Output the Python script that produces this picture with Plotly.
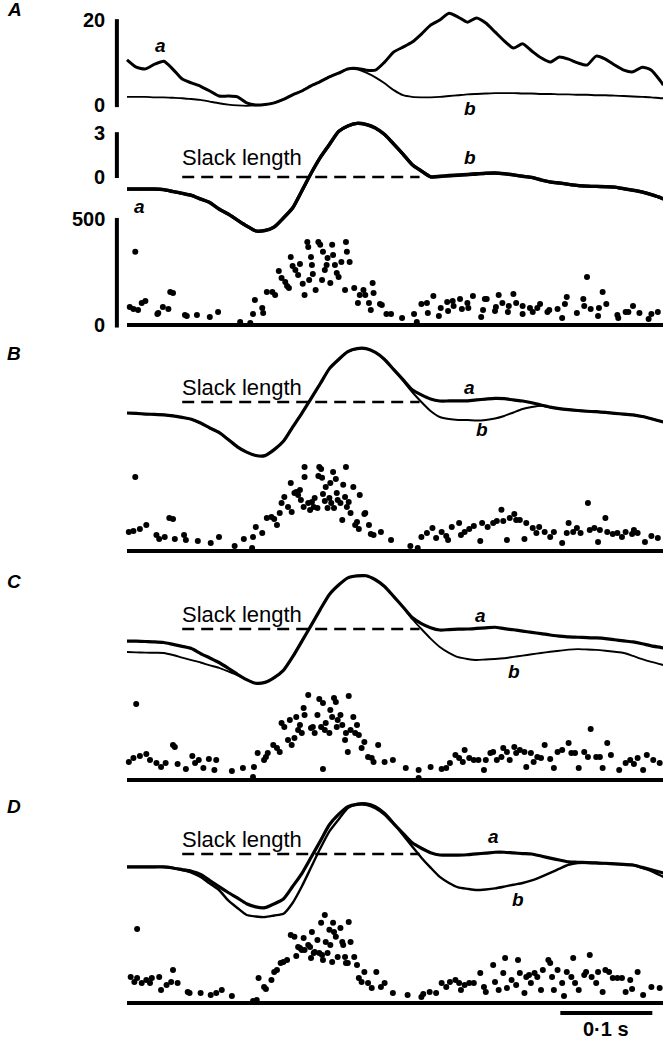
import plotly.graph_objects as go

W, H = 663, 1043
FONT = "Liberation Sans, Arial, Helvetica, sans-serif"

# ---------------------------------------------------------------- time base (ms)
T_MS = list(range(0, 590, 10)) + [583]

# ---------------------------------------------------------------- EMG (panel A, top)
EMG_A = [10.6, 8.9, 8.5, 9.6, 10.3, 8.4, 6.1, 5.2, 4.4, 3.3,
         2.1, 2.1, 1.9, 0.5, 0.0, 0.1, 0.5, 1.3, 2.4, 3.3,
         4.5, 5.5, 6.6, 7.5, 8.5, 8.6, 8.2, 8.2, 10.1, 12.5,
         13.6, 14.8, 16.7, 18.8, 20.0, 21.6, 20.7, 19.5, 20.5, 19.3,
         17.2, 15.1, 13.4, 14.4, 12.7, 11.1, 10.1, 11.3, 10.8, 9.9,
         9.4, 11.5, 10.8, 9.4, 8.2, 7.8, 8.9, 8.2, 5.6, 4.7]
EMG_B = [1.9, 1.9, 1.9, 1.8, 1.8, 1.7, 1.6, 1.4, 1.2, 0.8,
         0.4, 0.1, -0.1, -0.2, -0.1, 0.1, 0.5, 1.3, 2.4, 3.3,
         4.5, 5.5, 6.6, 7.5, 8.4, 8.4, 7.6, 6.5, 5.1, 3.5,
         2.3, 1.9, 1.8, 1.8, 1.9, 2.1, 2.3, 2.5, 2.6, 2.7,
         2.8, 2.8, 2.8, 2.7, 2.7, 2.6, 2.6, 2.5, 2.5, 2.4,
         2.4, 2.3, 2.3, 2.2, 2.1, 2.0, 1.9, 1.8, 1.6, 1.6]

# ---------------------------------------------------------------- muscle length (mm re slack length)
LEN_A_a = [-0.82, -0.82, -0.82, -0.82, -0.86, -0.99, -1.11, -1.25, -1.50, -1.74,
           -2.18, -2.52, -2.93, -3.33, -3.67, -3.64, -3.40, -2.79, -2.11, -0.95,
           0.24, 1.32, 2.21, 3.10, 3.47, 3.65, 3.57, 3.33, 2.89, 2.24,
           1.56, 0.84, 0.41, 0.00, 0.03, 0.07, 0.11, 0.14, 0.20, 0.24,
           0.26, 0.22, 0.14, 0.05, -0.03, -0.20, -0.34, -0.41, -0.50, -0.58,
           -0.62, -0.64, -0.66, -0.69, -0.80, -0.90, -1.02, -1.20, -1.41, -1.50]
LEN_A_b = [-0.82, -0.82, -0.82, -0.82, -0.86, -0.99, -1.11, -1.25, -1.50, -1.74,
           -2.18, -2.52, -2.93, -3.33, -3.67, -3.64, -3.40, -2.79, -2.11, -0.95,
           0.24, 1.32, 2.21, 3.10, 3.47, 3.65, 3.57, 3.33, 2.89, 2.24,
           1.56, 0.84, 0.41, 0.02, 0.05, 0.10, 0.14, 0.18, 0.22, 0.26,
           0.27, 0.22, 0.14, 0.05, -0.03, -0.20, -0.34, -0.41, -0.50, -0.58,
           -0.62, -0.64, -0.66, -0.69, -0.80, -0.90, -1.02, -1.20, -1.41, -1.50]

LEN_B_a = [-0.75, -0.78, -0.82, -0.84, -0.87, -0.94, -1.05, -1.17, -1.43, -1.77,
           -2.07, -2.55, -3.05, -3.41, -3.64, -3.65, -3.24, -2.67, -1.71, -0.77,
           0.23, 1.24, 2.27, 2.89, 3.42, 3.63, 3.63, 3.37, 2.89, 2.20,
           1.52, 0.83, 0.48, 0.20, 0.07, 0.07, 0.07, 0.08, 0.14, 0.20,
           0.25, 0.23, 0.14, 0.07, -0.05, -0.20, -0.35, -0.45, -0.52, -0.58,
           -0.63, -0.66, -0.71, -0.77, -0.83, -0.88, -0.99, -1.14, -1.31, -1.36]
LEN_B_b = [-0.75, -0.78, -0.82, -0.84, -0.87, -0.94, -1.05, -1.17, -1.43, -1.77,
           -2.07, -2.55, -3.05, -3.41, -3.64, -3.65, -3.24, -2.67, -1.71, -0.77,
           0.23, 1.24, 2.27, 2.89, 3.42, 3.63, 3.63, 3.37, 2.89, 2.20,
           1.45, 0.68, 0.00, -0.61, -1.02, -1.16, -1.22, -1.22, -1.26, -1.22,
           -1.12, -0.95, -0.71, -0.48, -0.34, -0.25, -0.35, -0.45, -0.52, -0.58,
           -0.63, -0.66, -0.71, -0.77, -0.83, -0.88, -0.99, -1.14, -1.31, -1.36]

LEN_C_a = [-0.82, -0.83, -0.85, -0.87, -0.92, -1.05, -1.18, -1.33, -1.67, -1.97,
           -2.28, -2.67, -3.08, -3.44, -3.69, -3.63, -3.31, -2.82, -1.90, -0.84,
           0.23, 1.32, 2.35, 2.99, 3.48, 3.61, 3.62, 3.35, 2.89, 2.20,
           1.50, 0.78, 0.37, 0.09, -0.07, -0.04, -0.01, 0.00, 0.04, 0.08,
           0.12, 0.02, -0.05, -0.14, -0.23, -0.31, -0.41, -0.48, -0.54, -0.56,
           -0.59, -0.61, -0.65, -0.73, -0.81, -0.88, -1.00, -1.15, -1.25, -1.29]
LEN_C_b = [-1.56, -1.59, -1.61, -1.62, -1.63, -1.77, -1.95, -2.12, -2.28, -2.47,
           -2.64, -2.88, -3.13, -3.44, -3.69, -3.63, -3.31, -2.82, -1.90, -0.84,
           0.23, 1.32, 2.35, 2.99, 3.48, 3.61, 3.62, 3.35, 2.89, 2.20,
           1.50, 0.68, 0.00, -0.65, -1.22, -1.62, -1.92, -2.04, -2.11, -2.07,
           -2.04, -1.99, -1.90, -1.81, -1.72, -1.63, -1.55, -1.48, -1.40, -1.37,
           -1.39, -1.42, -1.48, -1.55, -1.63, -1.83, -2.05, -2.24, -2.40, -2.45]

LEN_D_a = [-0.88, -0.88, -0.88, -0.88, -0.88, -0.95, -1.06, -1.17, -1.39, -1.80,
           -2.22, -2.62, -2.99, -3.38, -3.60, -3.65, -3.39, -3.06, -2.21, -1.33,
           -0.24, 0.87, 1.99, 2.69, 3.22, 3.38, 3.37, 3.14, 2.70, 2.05,
           1.40, 0.76, 0.39, 0.09, -0.07, -0.07, -0.07, -0.05, 0.01, 0.06,
           0.12, 0.12, 0.07, 0.03, 0.00, -0.14, -0.28, -0.41, -0.54, -0.56,
           -0.59, -0.61, -0.63, -0.67, -0.71, -0.75, -0.91, -1.07, -1.24, -1.29]
LEN_D_b = [-0.88, -0.88, -0.88, -0.88, -0.88, -0.95, -1.09, -1.26, -1.56, -2.01,
           -2.45, -3.16, -3.67, -4.15, -4.25, -4.29, -4.18, -4.07, -3.33, -2.21,
           -0.92, 0.37, 1.54, 2.35, 3.13, 3.40, 3.44, 3.25, 2.79, 2.09,
           1.29, 0.51, -0.25, -0.93, -1.56, -1.97, -2.27, -2.37, -2.45, -2.41,
           -2.34, -2.22, -2.09, -1.97, -1.80, -1.56, -1.29, -1.00, -0.73, -0.61,
           -0.60, -0.61, -0.63, -0.67, -0.71, -0.75, -0.94, -1.16, -1.46, -1.56]

# ---------------------------------------------------------------- instantaneous firing rate (imp/s)
SPK_A_T = [9, 3, 7, 12, 16, 20, 33, 34, 39, 45,
           47, 50, 63, 65, 76, 90, 99, 123, 134, 137,
           139, 147, 148, 152, 158, 161, 165, 168, 172, 174,
           176, 178, 180, 183, 186, 188, 191, 193, 196, 197,
           198, 200, 201, 202, 205, 208, 210, 212, 213, 215,
           217, 218, 221, 223, 224, 226, 228, 230, 233, 237,
           238, 239, 242, 247, 251, 253, 257, 259, 263, 265,
           267, 268, 275, 282, 287, 277, 299, 312, 315, 320,
           326, 327, 333, 339, 341, 348, 349, 354, 355, 362,
           364, 370, 371, 376, 385, 387, 389, 391, 400, 401,
           404, 408, 414, 415, 420, 423, 430, 430, 438, 441,
           446, 449, 457, 459, 468, 473, 476, 478, 489, 496,
           497, 500, 504, 512, 513, 517, 521, 533, 534, 542,
           545, 550, 557, 567, 570, 577]
SPK_A_V = [345, 85, 75, 71, 104, 113, 52, 57, 85, 75,
           156, 151, 47, 42, 47, 38, 61, 14, 9, 52,
           118, 80, 57, 156, 156, 142, 255, 222, 203, 184,
           175, 321, 278, 260, 236, 288, 194, 142, 392, 368,
           212, 321, 283, 241, 165, 392, 378, 212, 345, 260,
           283, 316, 198, 378, 330, 283, 245, 227, 297, 165,
           392, 345, 297, 175, 104, 142, 165, 142, 104, 71,
           198, 151, 99, 52, 52, 94, 33, 52, 14, 99,
           104, 57, 137, 42, 80, 109, 66, 113, 90, 123,
           75, 104, 80, 137, 38, 71, 123, 123, 66, 85,
           142, 104, 61, 90, 146, 104, 90, 52, 80, 61,
           80, 99, 61, 71, 75, 33, 99, 132, 57, 123,
           90, 227, 75, 42, 80, 156, 99, 47, 33, 61,
           61, 90, 57, 28, 52, 61]

SPK_B_T = ([9, 2, 7, 14, 21, 32, 35, 41, 46, 50, 52, 62, 64, 77, 91, 100, 117, 127, 136, 137, 140, 147]
           + [152, 157, 160, 163, 166, 168, 171, 175, 178, 179,
              182, 184, 186, 188, 189, 192, 193, 193, 197, 199,
              201, 203, 204, 207, 208, 209, 211, 212, 213, 215,
              216, 218, 220, 221, 222, 224, 225, 227, 228, 229,
              232, 234, 235, 237, 238, 239, 241, 243, 246, 248,
              250, 252, 253, 258, 259, 263, 265, 268, 276, 287]
           + [308, 316, 320, 326, 332, 336, 342, 347, 349, 353,
              361, 363, 367, 372, 377, 384, 386, 392, 398, 402,
              407, 409, 413, 416, 421, 423, 427, 432, 434, 441,
              445, 448, 454, 460, 464, 473, 478, 480, 485, 489,
              493, 501, 503, 508, 512, 514, 520, 522, 528, 533,
              538, 542, 549, 551, 555, 563, 570, 577])
SPK_B_V = ([349, 90, 94, 104, 123, 76, 57, 66, 156, 151, 57, 76, 52, 47, 38, 66, 24, 57, 14, 66, 113, 85]
           + [156, 160, 151, 123, 179, 227, 255, 208, 321, 184,
              274, 278, 264, 288, 241, 208, 396, 349, 227, 193,
              231, 208, 250, 203, 354, 396, 387, 345, 269, 236,
              302, 203, 250, 321, 227, 373, 203, 340, 274, 241,
              227, 146, 312, 255, 396, 208, 231, 179, 302, 123,
              137, 104, 264, 175, 179, 123, 80, 76, 90, 52]
           + [24, 14, 66, 85, 109, 61, 90, 71, 52, 113,
              132, 76, 90, 104, 118, 47, 132, 113, 132, 142,
              194, 142, 52, 156, 175, 146, 146, 57, 132, 109,
              85, 113, 90, 66, 90, 38, 85, 132, 90, 109,
              85, 227, 99, 109, 42, 99, 156, 90, 80, 85,
              66, 90, 80, 99, 85, 42, 71, 61])

SPK_C_T = ([10, 2, 7, 14, 21, 25, 32, 37, 42, 50, 52, 55, 64, 71, 74, 78, 83, 89, 95, 97,
            114, 126, 137, 138, 142, 149, 151]
           + [153, 159, 163, 166, 168, 171, 175, 177, 179, 182,
              184, 186, 188, 190, 192, 193, 197, 200, 202, 204,
              207, 209, 211, 213, 215, 216, 220, 221, 223, 225,
              227, 228, 229, 232, 234, 237, 238, 240, 241, 243,
              246, 248, 250, 252, 255, 258, 262, 266, 268, 273,
              280, 289, 303, 317, 213, 317]
           + [330, 342, 347, 351, 357, 361, 365, 367, 372, 377,
              382, 388, 390, 395, 398, 402, 407, 409, 413, 416,
              421, 423, 427, 432, 434, 439, 442, 446, 450, 454,
              460, 464, 468, 473, 480, 483, 487, 491, 497, 501,
              504, 510, 514, 517, 522, 526, 535, 542, 547, 551,
              555, 561, 565, 572, 579])
SPK_C_V = ([359, 85, 104, 113, 123, 94, 80, 61, 80, 165, 156, 76, 52, 113, 80, 94, 57, 99, 47, 94,
            42, 57, 14, 61, 127, 94, 108]
           + [127, 165, 151, 132, 269, 250, 189, 283, 165, 198,
              297, 236, 260, 222, 340, 307, 401, 245, 250, 222,
              307, 382, 250, 363, 236, 269, 222, 330, 297, 387,
              368, 250, 283, 307, 260, 189, 222, 132, 396, 236,
              297, 222, 260, 212, 151, 179, 108, 104, 85, 165,
              85, 94, 57, 47, 52, 9]
           + [61, 52, 57, 80, 118, 104, 85, 142, 104, 94,
              94, 47, 94, 127, 132, 94, 108, 151, 132, 94,
              156, 127, 142, 132, 61, 127, 85, 108, 104, 165,
              99, 57, 132, 142, 175, 127, 127, 57, 132, 108,
              241, 108, 108, 57, 175, 118, 47, 80, 94, 76,
              104, 47, 118, 94, 80])

SPK_D_T = ([11, 4, 8, 11, 16, 21, 25, 27, 35, 37, 43, 48, 50, 55, 66, 68, 80, 91, 97, 103,
            114, 137, 141, 143, 149, 151, 157]
           + [160, 163, 167, 170, 174, 178, 182, 184, 186, 188,
              190, 192, 193, 197, 199, 200, 201, 203, 204, 207,
              209, 211, 212, 213, 215, 216, 218, 220, 221, 223,
              224, 225, 227, 229, 232, 234, 235, 237, 238, 240,
              241, 243, 247, 250, 252, 255, 258, 262, 266, 271,
              276, 280]
           + [289, 305, 320, 322, 329, 336, 342, 347, 351, 357,
              361, 363, 367, 372, 377, 384, 388, 390, 398, 400,
              404, 409, 411, 413, 418, 423, 425, 427, 432, 434,
              437, 439, 443, 446, 450, 452, 458, 460, 462, 464,
              468, 473, 475, 478, 483, 485, 487, 491, 497, 499,
              503, 505, 510, 512, 517, 520, 524, 528, 533, 538,
              542, 547, 549, 555, 561, 570, 579])
SPK_D_V = ([349, 123, 99, 118, 94, 108, 94, 118, 123, 61, 85, 99, 156, 94, 52, 47, 47, 38, 47, 61,
            33, 9, 14, 118, 76, 66, 108]
           + [146, 156, 189, 193, 203, 321, 312, 222, 264, 260,
              250, 307, 250, 274, 264, 212, 335, 236, 241, 297,
              236, 378, 227, 203, 415, 288, 236, 345, 274, 193,
              378, 335, 312, 217, 354, 288, 274, 217, 189, 189,
              382, 288, 217, 179, 118, 99, 146, 94, 71, 146,
              76, 94]
           + [47, 38, 28, 42, 52, 47, 94, 76, 99, 108,
              94, 61, 85, 94, 94, 142, 76, 52, 179, 99,
              61, 142, 212, 71, 108, 85, 203, 142, 47, 123,
              132, 94, 142, 123, 61, 156, 203, 189, 123, 61,
              156, 94, 33, 146, 123, 212, 94, 61, 132, 146,
              227, 123, 94, 146, 52, 156, 146, 118, 118, 118,
              52, 108, 66, 146, 38, 76, 71])

for seq in (EMG_A, EMG_B, LEN_A_a, LEN_A_b, LEN_B_a, LEN_B_b,
            LEN_C_a, LEN_C_b, LEN_D_a, LEN_D_b):
    assert len(seq) == len(T_MS)
for tt, vv in ((SPK_A_T, SPK_A_V), (SPK_B_T, SPK_B_V), (SPK_C_T, SPK_C_V), (SPK_D_T, SPK_D_V)):
    assert len(tt) == len(vv)

T_END = T_MS[-1]
SLACK_SPAN = [60, 318]          # extent of the dashed slack-length line (ms)
SCALE_BAR = [471, 571]          # 0.1 s calibration bar (ms)

# ---------------------------------------------------------------- vertical layout of the strips
# name: (top px, bottom px, px of zero, px per unit)
STRIPS = {
    "y":  (0, 114, 105, 4.25),      # EMG A
    "y2": (110, 245, 177, 14.7),    # length A
    "y3": (212, 334, 325, 0.212),   # rate A
    "y4": (334, 470, 402, 14.7),    # length B
    "y5": (452, 560, 551, 0.212),   # rate B
    "y6": (560, 700, 629, 14.7),    # length C
    "y7": (682, 790, 780, 0.212),   # rate C
    "y8": (786, 935, 854, 14.7),    # length D
    "y9": (905, 1012, 1003, 0.212), # rate D
}

fig = go.Figure()


def line(x, y, ax, width, dash="solid"):
    fig.add_trace(go.Scatter(x=x, y=y, yaxis=ax, mode="lines", hoverinfo="skip",
                             line=dict(color="black", width=width, dash=dash,
                                       shape="spline", smoothing=0.6)))


def dots(x, y, ax):
    fig.add_trace(go.Scatter(x=x, y=y, yaxis=ax, mode="markers", hoverinfo="skip",
                             marker=dict(color="black", size=6, line=dict(width=0))))


# EMG
line(T_MS, EMG_B, "y", 1.9)
line(T_MS, EMG_A, "y", 3.0)

# length traces with slack-length reference
for ax, a, b, wb in (("y2", LEN_A_a, LEN_A_b, 3.4), ("y4", LEN_B_a, LEN_B_b, 2.0),
                     ("y6", LEN_C_a, LEN_C_b, 1.9), ("y8", LEN_D_a, LEN_D_b, 2.4)):
    line(SLACK_SPAN, [0, 0], ax, 2.4, dash="12px,7px")
    line(T_MS, b, ax, wb)
    line(T_MS, a, ax, 3.2)

# firing-rate strips with their zero lines
for ax, tt, vv in (("y3", SPK_A_T, SPK_A_V), ("y5", SPK_B_T, SPK_B_V),
                   ("y7", SPK_C_T, SPK_C_V), ("y9", SPK_D_T, SPK_D_V)):
    fig.add_trace(go.Scatter(x=[0, T_END], y=[0, 0], yaxis=ax, mode="lines",
                             hoverinfo="skip", line=dict(color="black", width=4)))
    dots(tt, vv, ax)

# calibration bars of panel A
BAR_T = -11
for ax, lo, hi in (("y", -0.5, 20.2), ("y2", -0.07, 3.05), ("y3", -12, 505)):
    fig.add_trace(go.Scatter(x=[BAR_T, BAR_T], y=[lo, hi], yaxis=ax, mode="lines",
                             hoverinfo="skip", line=dict(color="black", width=4)))

layout_axes = {}
for name, (top, bot, zero, ppu) in STRIPS.items():
    key = "yaxis" if name == "y" else "yaxis" + name[1:]
    layout_axes[key] = dict(domain=[1 - bot / H, 1 - top / H],
                            range=[(zero - bot) / ppu, (zero - top) / ppu],
                            visible=False, anchor="x", fixedrange=True)

ann = []


def text(x, y, s, ax, size, xanchor="center", yanchor="middle"):
    ann.append(dict(x=x, y=y, xref="x", yref=ax, text=s, showarrow=False,
                    xanchor=xanchor, yanchor=yanchor,
                    font=dict(family=FONT, size=size, color="black")))


# tick values of panel A
TICK_T = -22
for ax, vals in (("y", [0, 20]), ("y2", [0, 3]), ("y3", [0, 500])):
    for v in vals:
        text(TICK_T, v, "<b>%d</b>" % v, ax, 20, xanchor="right")

# trace labels
LBL = 19
text(36, 14.1, "<b><i>a</i></b>", "y", LBL)
text(373, -0.8, "<b><i>b</i></b>", "y", LBL)
text(14, -2.04, "<b><i>a</i></b>", "y2", LBL)
text(373, 1.36, "<b><i>b</i></b>", "y2", LBL)
text(372, 1.02, "<b><i>a</i></b>", "y4", LBL)
text(386, -1.9, "<b><i>b</i></b>", "y4", LBL)
text(384, 0.95, "<b><i>a</i></b>", "y6", LBL)
text(421, -2.9, "<b><i>b</i></b>", "y6", LBL)
text(398, 1.16, "<b><i>a</i></b>", "y8", LBL)
text(425, -3.1, "<b><i>b</i></b>", "y8", LBL)

# slack-length captions
for ax, yv in (("y2", 1.36), ("y4", 1.02), ("y6", 1.02), ("y8", 1.02)):
    text(58, yv, "Slack length", ax, 22, xanchor="left")

# panel letters
for letter, py in (("A", 9), ("B", 353), ("C", 581), ("D", 806)):
    ann.append(dict(x=14 / W, y=1 - py / H, xref="paper", yref="paper",
                    text="<b><i>%s</i></b>" % letter, showarrow=False,
                    xanchor="center", yanchor="middle",
                    font=dict(family=FONT, size=19, color="black")))

# time calibration
ann.append(dict(x=sum(SCALE_BAR) / 2, y=1 - 1029 / H, xref="x", yref="paper",
                text="<b>0·1 s</b>", showarrow=False, xanchor="center", yanchor="middle",
                font=dict(family=FONT, size=20, color="black")))
shapes = [dict(type="line", xref="x", yref="paper", x0=SCALE_BAR[0], x1=SCALE_BAR[1],
               y0=1 - 1013 / H, y1=1 - 1013 / H, line=dict(color="black", width=4))]

fig.update_layout(
    width=W, height=H, margin=dict(l=0, r=0, t=0, b=0),
    paper_bgcolor="white", plot_bgcolor="rgba(0,0,0,0)",
    showlegend=False,
    xaxis=dict(domain=[0, 1], range=[-127 / 0.92, 536 / 0.92], visible=False,
               anchor="y", fixedrange=True),
    annotations=ann, shapes=shapes,
    **layout_axes,
)

fig.write_html("out.html")
